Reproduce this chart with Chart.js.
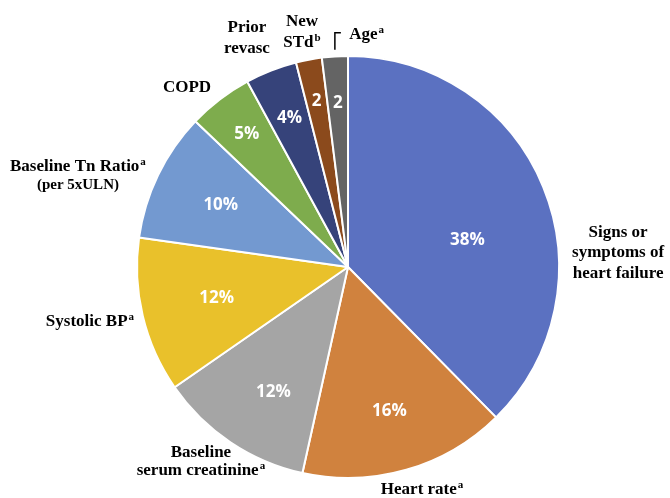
<!DOCTYPE html>
<html>
<head>
<meta charset="utf-8">
<script src="https://cdn.jsdelivr.net/npm/chart.js@4"></script>
<style>
  html, body { margin: 0; padding: 0; background: #fff; }
  #wrap { width: 670px; height: 498px; }
</style>
</head>
<body>
<div id="wrap"><canvas id="pieChart" width="670" height="498"></canvas></div>
<script>
// Data
const categories = [
    "Signs or symptoms of heart failure",
    "Heart rate",
    "Baseline serum creatinine",
    "Systolic BP",
    "Baseline Tn Ratio (per 5xULN)",
    "COPD",
    "Prior revasc",
    "New STd",
    "Age",
];
const values = [38, 16, 12, 12, 10, 5, 4, 2, 2];
const valueLabels = ["38%", "16%", "12%", "12%", "10%", "5%", "4%", "2", "2"];
const colors = [
    "#5B71C1",
    "#D0823E",
    "#A5A5A5",
    "#E9C12B",
    "#7399D0",
    "#7EAC4D",
    "#36437A",
    "#8B4A1C",
    "#646464",
];

// category text as drawn on the chart: [text, superscript] per line
const categoryLines = [
    [["Signs or", ""], ["symptoms of", ""], ["heart failure", ""]],
    [["Heart rate", "a"]],
    [["Baseline", ""], ["serum creatinine", "a"]],
    [["Systolic BP", "a"]],
    [["Baseline Tn Ratio", "a"], ["(per 5xULN)", ""]],
    [["COPD", ""]],
    [["Prior", ""], ["revasc", ""]],
    [["New", ""], ["STd", "b"]],
    [["Age", "a"]],
];

// layout of labels (relative to pie centre, in radius units)
const valuePos = [
    { r: 0.58, da: 9.5 }, { r: 0.71, da: 0 }, { r: 0.69, da: -3 },
    { r: 0.64, da: 0 }, { r: 0.67, da: 0 }, { r: 0.79, da: 0 },
    { r: 0.76, da: 0 }, { r: 0.8, da: 0 }, { r: 0.78, da: 0 },
];
const catPos = [
    { x: 1.28, y: -0.066, lh: 20.5 },
    { x: 0.351, y: 1.057, lh: 18 },
    { x: -0.697, y: 0.924, lh: 18 },
    { x: -1.223, y: 0.261, lh: 18 },
    { x: -1.28, y: -0.431, lh: 18 },
    { x: -0.763, y: -0.848, lh: 18 },
    { x: -0.479, y: -1.083, lh: 21 },
    { x: -0.218, y: -1.111, lh: 21 },
    { x: 0.088, y: -1.10, lh: 18 },
];

const SERIF = "'Liberation Serif', 'Times New Roman', serif";

function drawRich(ctx, text, sup, cx, y, size) {
    ctx.font = "bold " + size + "px " + SERIF;
    const w1 = ctx.measureText(text).width;
    ctx.font = "bold " + Math.round(size * 0.62) + "px " + SERIF;
    const w2 = sup ? ctx.measureText(sup).width + 1 : 0;
    let x = cx - (w1 + w2) / 2;
    ctx.font = "bold " + size + "px " + SERIF;
    ctx.fillText(text, x, y);
    if (sup) {
        ctx.font = "bold " + Math.round(size * 0.62) + "px " + SERIF;
        ctx.fillText(sup, x + w1 + 1, y - size * 0.3);
    }
}

const labelPlugin = {
    id: "pieLabels",
    afterDraw(chart) {
        const ctx = chart.ctx;
        const meta = chart.getDatasetMeta(0);
        const arc0 = meta.data[0];
        const cx = arc0.x, cy = arc0.y, R = arc0.outerRadius;
        ctx.save();
        ctx.textBaseline = "middle";

        // values inside slices
        ctx.fillStyle = "#ffffff";
        ctx.font = "bold 17px 'Open Sans', sans-serif";
        ctx.textAlign = "center";
        meta.data.forEach((arc, i) => {
            const p = valuePos[i];
            const mid = (arc.startAngle + arc.endAngle) / 2 + p.da * Math.PI / 180;
            ctx.fillText(valueLabels[i], cx + Math.cos(mid) * R * p.r, cy + Math.sin(mid) * R * p.r);
        });

        // category names
        ctx.fillStyle = "#000000";
        ctx.textAlign = "left";
        categoryLines.forEach((lines, i) => {
            const p = catPos[i];
            const bx = cx + p.x * R;
            const by = cy + p.y * R - (lines.length - 1) * p.lh / 2;
            lines.forEach((ln, j) => {
                const size = (i === 4 && j === 1) ? 15 : 17;
                drawRich(ctx, ln[0], ln[1], bx, by + j * p.lh, size);
            });
        });

        // leader for Age
        const ageArc = meta.data[8];
        const am = (ageArc.startAngle + ageArc.endAngle) / 2;
        const lx = cx + Math.cos(am) * R * 1.0;
        ctx.strokeStyle = "#000000";
        ctx.lineWidth = 1.5;
        ctx.beginPath();
        ctx.moveTo(lx, cy - R * 1.03);
        ctx.lineTo(lx, cy - R * 1.11);
        ctx.lineTo(lx + 6, cy - R * 1.11);
        ctx.stroke();
        ctx.restore();
    },
};

const pieChart = document.getElementById("pieChart");
new Chart(pieChart, {
    type: "pie",
    data: {
        labels: categories,
        datasets: [
            {
                data: values,
                backgroundColor: colors,
                borderColor: "#ffffff",
                borderWidth: 2,
            },
        ],
    },
    options: {
        responsive: false,
        animation: false,
        layout: {
            padding: { left: 136, right: 110, top: 55, bottom: 19 },
        },
        plugins: {
            legend: { display: false },
            tooltip: { enabled: false },
        },
    },
    plugins: [labelPlugin],
});
</script>
</body>
</html>
